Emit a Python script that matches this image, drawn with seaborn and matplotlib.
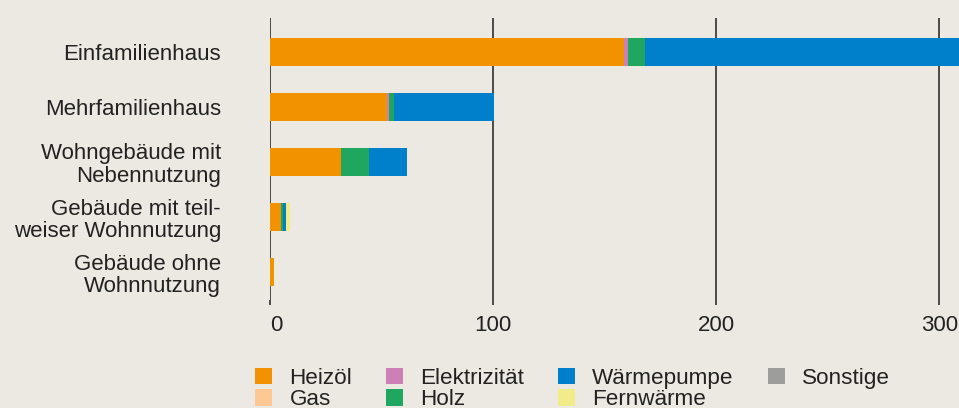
import numpy as np
import pandas as pd
import matplotlib
matplotlib.use("Agg")
import matplotlib.pyplot as plt
from matplotlib.patches import Patch
import seaborn as sns

categories = ["Einfamilienhaus", "Mehrfamilienhaus", "Wohngebäude mit\nNebennutzung",
              "Gebäude mit teil-\nweiser Wohnnutzung", "Gebäude ohne\nWohnnutzung"]
series_names = ["Heizöl", "Gas", "Elektrizität", "Holz", "Wärmepumpe", "Fernwärme", "Sonstige"]
heizoel      = [158.9, 52.4, 32.1, 5.2, 2.0]
gas          = [0.0, 0.0, 0.0, 0.0, 0.0]
elektrizitaet = [1.7, 0.9, 0.0, 0.0, 0.0]
holz         = [7.7, 2.6, 12.2, 0.9, 0.0]
waermepumpe  = [170.0, 44.4, 17.0, 1.3, 0.0]
fernwaerme   = [0.0, 0.0, 0.0, 1.8, 0.0]
sonstige     = [0.0, 0.0, 0.0, 0.0, 0.0]
x_ticks = [0, 100, 200, 300]

colors = ["#F39200", "#FDC893", "#CC80B6", "#1FA760", "#0080CA", "#F2EB8A", "#9D9D9C"]
bg = "#ECE9E2"
txt = "#222222"
grid_c = "#4A4A4A"
fs = 16.0
fs_leg = 16.2

series = [heizoel, gas, elektrizitaet, holz, waermepumpe, fernwaerme, sonstige]
df = pd.DataFrame(dict(zip(series_names, series)), index=categories)
cum = df.cumsum(axis=1)

sns.set_theme(style="white")
plt.rcParams["font.family"] = ["Liberation Sans", "DejaVu Sans"]

fig = plt.figure(figsize=(9.59, 4.08), dpi=100, facecolor=bg)
ax = fig.add_axes([269.7 / 959, 108 / 408, 1 - 269.7 / 959, 282 / 408])
ax.set_facecolor(bg)

for name, col in reversed(list(zip(series_names, colors))):
    d = pd.DataFrame({"cat": categories, "val": cum[name].values})
    sns.barplot(data=d, y="cat", x="val", orient="h", color=col, width=0.51,
                saturation=1, linewidth=0, ax=ax, zorder=3)

ax.set_xlim(0, 308.8)
ax.set_ylim(4.509, -0.618)
ax.set_xticks(x_ticks)
ax.set_xticklabels([str(v) for v in x_ticks])
ax.xaxis.grid(True, color=grid_c, linewidth=1.4, zorder=0)
ax.set_axisbelow(True)
for s in ax.spines.values():
    s.set_visible(False)
ax.set_xlabel("")
ax.set_ylabel("")
ax.tick_params(axis="x", length=3.6, width=1.4, color=grid_c, pad=7,
               labelsize=fs, labelcolor=txt, bottom=True)
ax.tick_params(axis="y", length=0, pad=35, labelsize=fs, labelcolor=txt)
for lab in ax.get_yticklabels():
    lab.set_linespacing(1.08)
ax.get_xticklabels()[0].set_horizontalalignment("left")

handles = [Patch(facecolor=c, edgecolor="none", label=n) for n, c in zip(series_names, colors)]
fig.legend(handles=handles, loc="upper left", bbox_to_anchor=(255 / 959, 1 - 368 / 408),
           ncol=4, frameon=False, fontsize=fs_leg, labelcolor=txt,
           handlelength=0.75, handleheight=0.75, handletextpad=0.78,
           columnspacing=1.5, labelspacing=0.0, borderpad=0, borderaxespad=0)

fig.savefig("out.png", dpi=100, facecolor=bg)
